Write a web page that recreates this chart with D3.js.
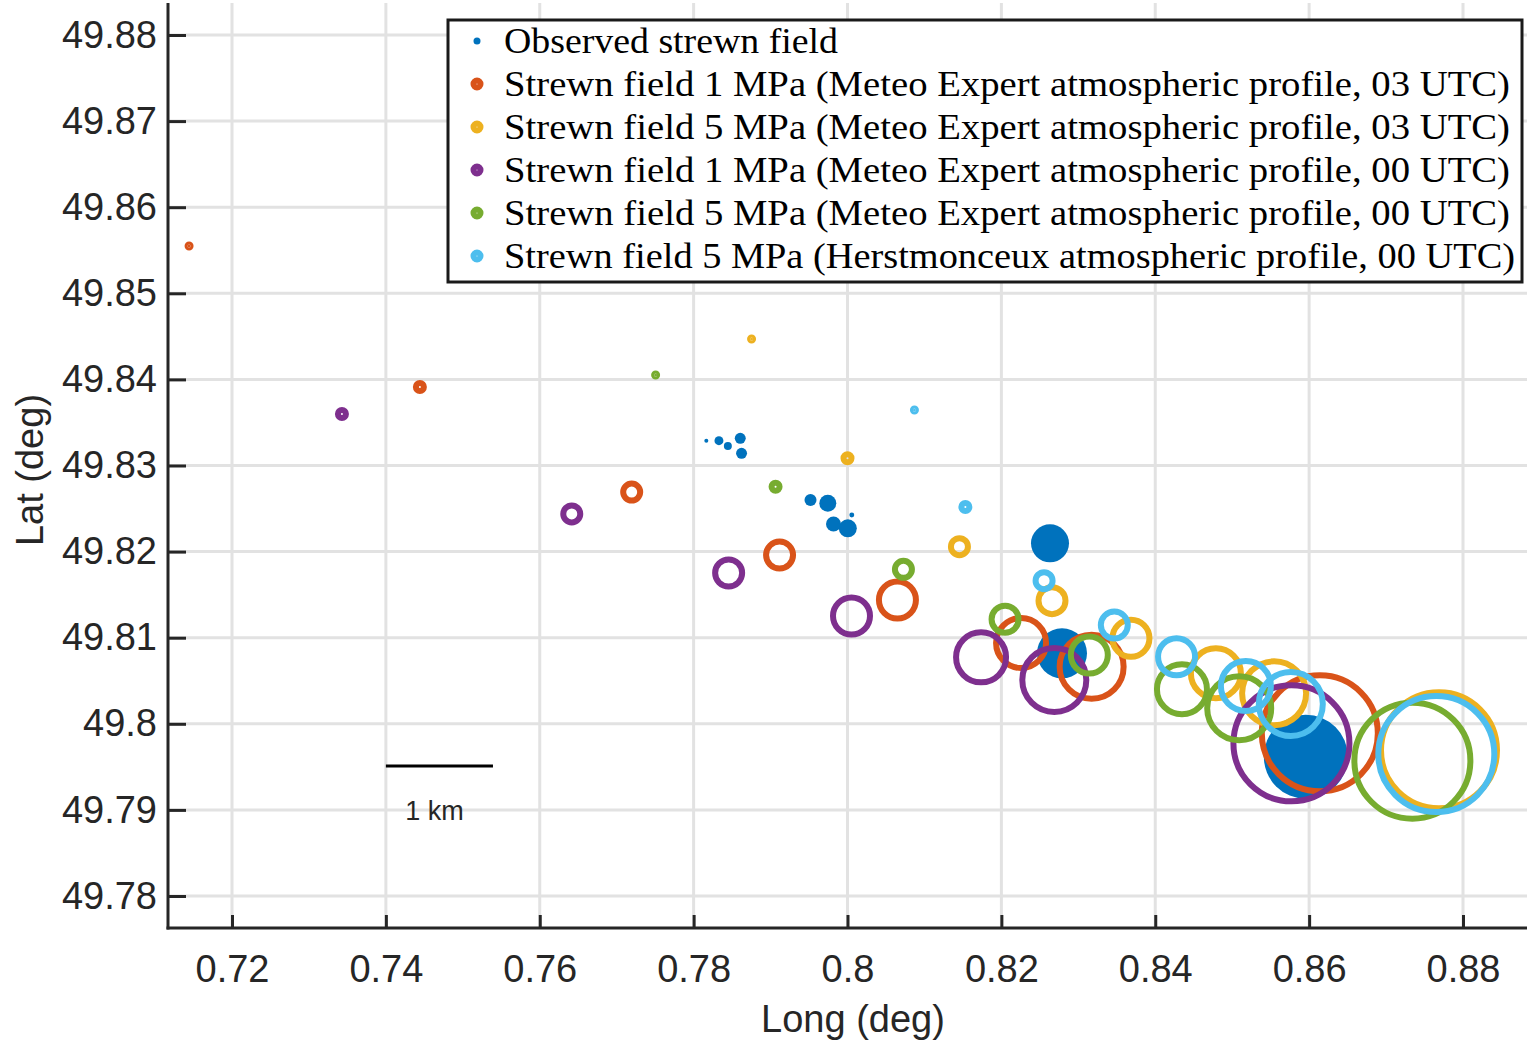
<!DOCTYPE html>
<html>
<head>
<meta charset="utf-8">
<script src="https://cdn.jsdelivr.net/npm/d3@7"></script>
<style>
  body { margin: 0; background: #fff; }
  svg { display: block; }
</style>
</head>
<body>
<svg id="chart" width="1527" height="1044"></svg>
<script>
// ---- Tick values ----
const lonTicks = [0.72, 0.74, 0.76, 0.78, 0.80, 0.82, 0.84, 0.86, 0.88];
const latTicks = [49.78, 49.79, 49.80, 49.81, 49.82, 49.83, 49.84, 49.85, 49.86, 49.87, 49.88];

// ---- Observed strewn field (recovered fragments) ----
const obsLon = [0.78165, 0.78329, 0.78445, 0.78606, 0.78623, 0.79519, 0.79744, 0.79818, 0.80004, 0.80056, 0.82632, 0.82788, 0.85957];
const obsLat = [49.83288, 49.83288, 49.83226, 49.83316, 49.83142, 49.82599, 49.82561, 49.82320, 49.82271, 49.82425, 49.82096, 49.80819, 49.79618];
const obsWeight = [4, 20, 16, 30, 30, 36, 72, 56, 81, 6, 361, 625, 1764];

// ---- Simulated strewn fields: mass class 1 (lightest) .. 8 (heaviest) ----
const me03_1MPa_lon = [0.71442, 0.74442, 0.77195, 0.79117, 0.80649, 0.82256, 0.83173, 0.86139];
const me03_1MPa_lat = [49.85549, 49.83912, 49.82692, 49.81960, 49.81438, 49.80938, 49.80663, 49.79890];
const me03_1MPa_cls = [1, 2, 3, 4, 5, 6, 7, 8];

const me03_5MPa_lon = [0.78753, 0.80000, 0.81455, 0.82658, 0.83684, 0.84788, 0.85545, 0.87688];
const me03_5MPa_lat = [49.84469, 49.83084, 49.82057, 49.81430, 49.80993, 49.80587, 49.80354, 49.79692];
const me03_5MPa_cls = [1, 2, 3, 4, 5, 6, 7, 8];

const me00_1MPa_lon = [0.73429, 0.76416, 0.78455, 0.80052, 0.81736, 0.82688, 0.85770];
const me00_1MPa_lat = [49.83598, 49.82437, 49.81751, 49.81252, 49.80772, 49.80509, 49.79773];
const me00_1MPa_cls = [2, 3, 4, 5, 6, 7, 8];

const me00_5MPa_lon = [0.77506, 0.79065, 0.80727, 0.82048, 0.83143, 0.84347, 0.85091, 0.87342];
const me00_5MPa_lat = [49.84051, 49.82754, 49.81794, 49.81214, 49.80799, 49.80401, 49.80180, 49.79571];
const me00_5MPa_cls = [1, 2, 3, 4, 5, 6, 7, 8];

const hm00_5MPa_lon = [0.80870, 0.81532, 0.82555, 0.83468, 0.84277, 0.85178, 0.85762, 0.87653];
const hm00_5MPa_lat = [49.83644, 49.82518, 49.81662, 49.81147, 49.80779, 49.80439, 49.80230, 49.79649];
const hm00_5MPa_cls = [1, 2, 3, 4, 5, 6, 7, 8];

const legendLabels = [
  "Observed strewn field",
  "Strewn field 1 MPa (Meteo Expert atmospheric profile, 03 UTC)",
  "Strewn field 5 MPa (Meteo Expert atmospheric profile, 03 UTC)",
  "Strewn field 1 MPa (Meteo Expert atmospheric profile, 00 UTC)",
  "Strewn field 5 MPa (Meteo Expert atmospheric profile, 00 UTC)",
  "Strewn field 5 MPa (Herstmonceux atmospheric profile, 00 UTC)"
];

// 1 km scale bar anchored at longitude 0.74
const scaleBarLon = [0.74, 0.75392];
const scaleBarLat = 49.7951;

// ---- Build series ----
const zip = (lon, lat, c) => lon.map((d, i) => ({ lon: d, lat: lat[i], c: c[i] }));
const series = [
  { color: "#D95319", pts: zip(me03_1MPa_lon, me03_1MPa_lat, me03_1MPa_cls) },
  { color: "#EDB120", pts: zip(me03_5MPa_lon, me03_5MPa_lat, me03_5MPa_cls) },
  { color: "#7E2F8E", pts: zip(me00_1MPa_lon, me00_1MPa_lat, me00_1MPa_cls) },
  { color: "#77AC30", pts: zip(me00_5MPa_lon, me00_5MPa_lat, me00_5MPa_cls) },
  { color: "#4DBEEE", pts: zip(hm00_5MPa_lon, hm00_5MPa_lat, hm00_5MPa_cls) }
];
const obsColor = "#0072BD";
const observed = obsLon.map((d, i) => ({ lon: d, lat: obsLat[i], w: obsWeight[i] }));

// ---- Layout ----
const svg = d3.select("#chart");
const plotL = 168, plotR = 1527, plotT = 3, plotB = 928;
const textColor = "#262626";
const ringWidth = 6;

const x = d3.scaleLinear().domain([0.72, 0.88]).range([232, 1463]);
const y = d3.scaleLinear().domain([49.78, 49.88]).range([896, 35]);
const rClass = d3.scaleOrdinal().domain([1, 2, 3, 4, 5, 6, 7, 8])
  .range([1.5, 4, 8.5, 13.5, 18.5, 25, 32, 58]);
const rObs = d3.scaleSqrt().domain([0, d3.max(obsWeight)]).range([0, 42]);

// ---- Grid ----
const grid = svg.append("g").attr("stroke", "#e2e2e2").attr("stroke-width", 3);
grid.selectAll("line.v").data(lonTicks).join("line")
  .attr("x1", d => x(d)).attr("x2", d => x(d))
  .attr("y1", plotT).attr("y2", plotB);
grid.selectAll("line.h").data(latTicks).join("line")
  .attr("x1", plotL).attr("x2", plotR)
  .attr("y1", d => y(d)).attr("y2", d => y(d));

// ---- Observed fragments ----
svg.append("g").selectAll("circle").data(observed).join("circle")
  .attr("cx", d => x(d.lon)).attr("cy", d => y(d.lat))
  .attr("r", d => rObs(d.w))
  .attr("fill", obsColor);

// ---- Simulated fields (thick rings; the lightest class collapses to a dot) ----
series.forEach(s => {
  svg.append("g").selectAll("circle").data(s.pts).join("circle")
    .attr("cx", d => x(d.lon)).attr("cy", d => y(d.lat))
    .attr("r", d => rClass(d.c))
    .attr("fill", d => rClass(d.c) < ringWidth / 2 ? s.color : "none")
    .attr("stroke", s.color)
    .attr("stroke-width", ringWidth);
});

// ---- Axes ----
const yAxis = d3.axisLeft(y).tickValues(latTicks).tickSizeInner(-18).tickSizeOuter(0)
  .tickPadding(11).tickFormat(d => String(+d.toFixed(2)));
const gy = svg.append("g").attr("transform", `translate(${plotL},0)`).call(yAxis);
const xAxis = d3.axisBottom(x).tickValues(lonTicks).tickSizeInner(-13).tickSizeOuter(0)
  .tickPadding(27).tickFormat(d => String(+d.toFixed(2)));
const gx = svg.append("g").attr("transform", `translate(0,${plotB})`).call(xAxis);

[gx, gy].forEach(g => {
  g.select(".domain").remove();
  g.selectAll(".tick line").attr("stroke", textColor).attr("stroke-width", 3);
  g.selectAll(".tick text")
    .attr("fill", textColor)
    .style("font-family", "'Liberation Sans', Arial, sans-serif")
    .style("font-size", "38px");
});

svg.append("line").attr("x1", plotL).attr("x2", plotL).attr("y1", plotT).attr("y2", plotB + 1.5)
  .attr("stroke", textColor).attr("stroke-width", 3);
svg.append("line").attr("x1", plotL - 1.5).attr("x2", plotR).attr("y1", plotB).attr("y2", plotB)
  .attr("stroke", textColor).attr("stroke-width", 3);

// Axis titles
svg.append("text").attr("x", 853).attr("y", 1032).attr("text-anchor", "middle")
  .attr("fill", textColor)
  .style("font-family", "'Liberation Sans', Arial, sans-serif").style("font-size", "38px")
  .text("Long (deg)");
svg.append("text").attr("transform", "translate(43,470) rotate(-90)").attr("text-anchor", "middle")
  .attr("fill", textColor)
  .style("font-family", "'Liberation Sans', Arial, sans-serif").style("font-size", "38px")
  .text("Lat (deg)");

// ---- Scale bar ----
svg.append("line")
  .attr("x1", x(scaleBarLon[0])).attr("x2", x(scaleBarLon[1]))
  .attr("y1", y(scaleBarLat)).attr("y2", y(scaleBarLat))
  .attr("stroke", "#000").attr("stroke-width", 3);
svg.append("text").attr("x", (x(scaleBarLon[0]) + x(scaleBarLon[1])) / 2 - 5).attr("y", 820)
  .attr("text-anchor", "middle").attr("fill", textColor)
  .style("font-family", "'Liberation Sans', Arial, sans-serif").style("font-size", "27px")
  .text("1 km");

// ---- Legend ----
const legend = svg.append("g");
legend.append("rect").attr("x", 448).attr("y", 20).attr("width", 1074).attr("height", 262)
  .attr("fill", "#fff").attr("stroke", "#1a1a1a").attr("stroke-width", 3);
const rowY = i => 41 + i * 43;
const textWidths = [334, 1006, 1006, 1006, 1006, 1011];
const legendColors = [obsColor].concat(series.map(s => s.color));
legendLabels.forEach((lab, i) => {
  if (i === 0) {
    legend.append("circle").attr("cx", 477).attr("cy", rowY(i)).attr("r", 3.5).attr("fill", obsColor);
  } else {
    legend.append("circle").attr("cx", 477).attr("cy", rowY(i)).attr("r", 3.5)
      .attr("fill", "none").attr("stroke", legendColors[i]).attr("stroke-width", ringWidth);
  }
  legend.append("text").attr("x", 504).attr("y", rowY(i) + 12)
    .attr("textLength", textWidths[i]).attr("lengthAdjust", "spacingAndGlyphs")
    .attr("fill", "#000")
    .style("font-family", "'Liberation Serif', 'Times New Roman', serif").style("font-size", "35px")
    .text(lab);
});
</script>
</body>
</html>
